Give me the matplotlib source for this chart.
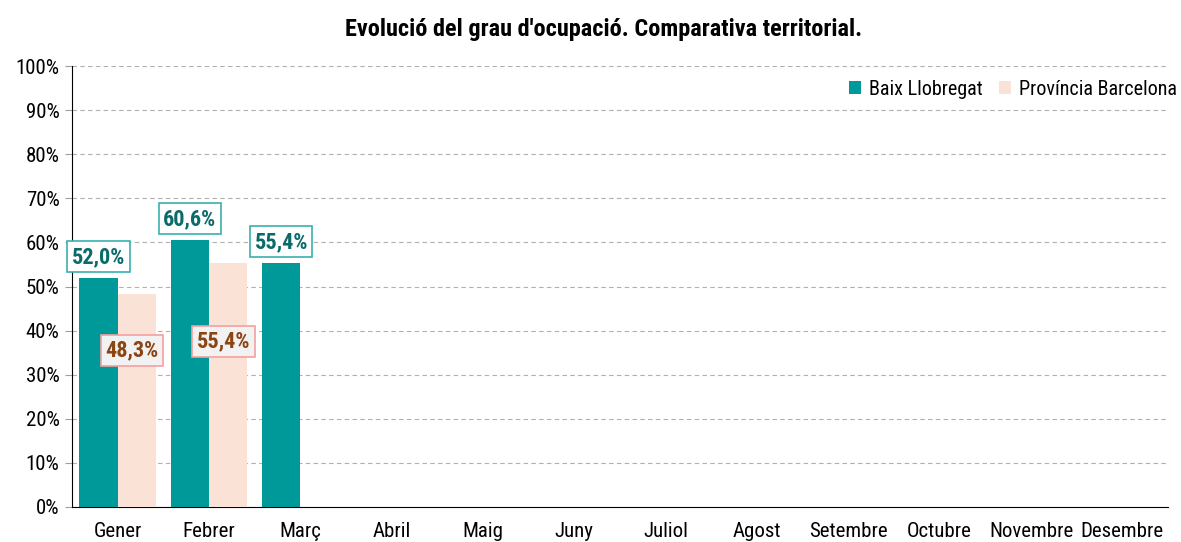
import matplotlib
matplotlib.use("Agg")
import matplotlib.pyplot as plt
import numpy as np

plt.rcParams['font.family'] = ['Roboto Condensed', 'Liberation Sans', 'DejaVu Sans']

months = ["Gener", "Febrer", "Març", "Abril", "Maig", "Juny", "Juliol",
          "Agost", "Setembre", "Octubre", "Novembre", "Desembre"]
baix = [52.0, 60.6, 55.4]
prov = [48.3, 55.4]
prov_label_y = [35.5, 37.5]

teal = "#009999"
pink = "#FAE3D6"

fig = plt.figure(figsize=(11.81, 5.42), dpi=100)
ax = fig.add_axes([0.061, 0.0646, 0.928, 0.8136])

x = np.arange(len(months))
w = 0.42
ax.bar(x[:len(baix)] - w/2, baix, width=w, color=teal, label="Baix Llobregat", zorder=3)
ax.bar(x[:len(prov)] + w/2, prov, width=w, color=pink, label="Província Barcelona", zorder=3)

for i, v in enumerate(baix):
    ax.annotate(f"{v:.1f}%".replace('.', ','), (x[i] - w/2, v), xytext=(0, 15),
                textcoords='offset points', ha='center', va='center',
                fontsize=16, fontweight='bold', color="#0B6B6B",
                bbox=dict(boxstyle='square,pad=0.2', fc='white', ec='#3AB0B0', lw=1.2), zorder=5)
for i, v in enumerate(prov):
    ax.text(x[i] + w/2 - 0.05, prov_label_y[i], f"{v:.1f}%".replace('.', ','),
            ha='center', va='center', fontsize=16, fontweight='bold', color="#8B4513",
            bbox=dict(boxstyle='square,pad=0.2', fc='#F2F2F2', ec='#F4A0A0', lw=1.2), zorder=5)

ax.set_xlim(-0.5, len(months) - 0.5)
ax.set_ylim(0, 100)
ax.set_yticks(np.arange(0, 101, 10))
ax.set_yticklabels([f"{t}%" for t in range(0, 101, 10)], fontsize=15)
ax.set_xticks(x)
ax.set_xticklabels(months, fontsize=15)
ax.tick_params(axis='x', length=0, pad=11)
ax.tick_params(axis='y', length=5, color='#A0A0A0', pad=4)
ax.yaxis.grid(True, linestyle=(0, (4, 3)), color='#B0B0B0', lw=0.8, zorder=0)
for s in ['top', 'right']:
    ax.spines[s].set_visible(False)
ax.spines['left'].set_color('black')
ax.spines['bottom'].set_color('black')

ax.legend(loc='upper right', bbox_to_anchor=(1.025, 1.01), ncol=2, frameon=False,
          fontsize=14.5, handlelength=0.6, handleheight=0.6, handletextpad=0.4, columnspacing=0.8)

fig.text(0.511, 0.945, "Evolució del grau d'ocupació. Comparativa territorial.",
         ha='center', va='center', fontsize=17.5, fontweight='bold')

fig.savefig("out.png", dpi=100)
